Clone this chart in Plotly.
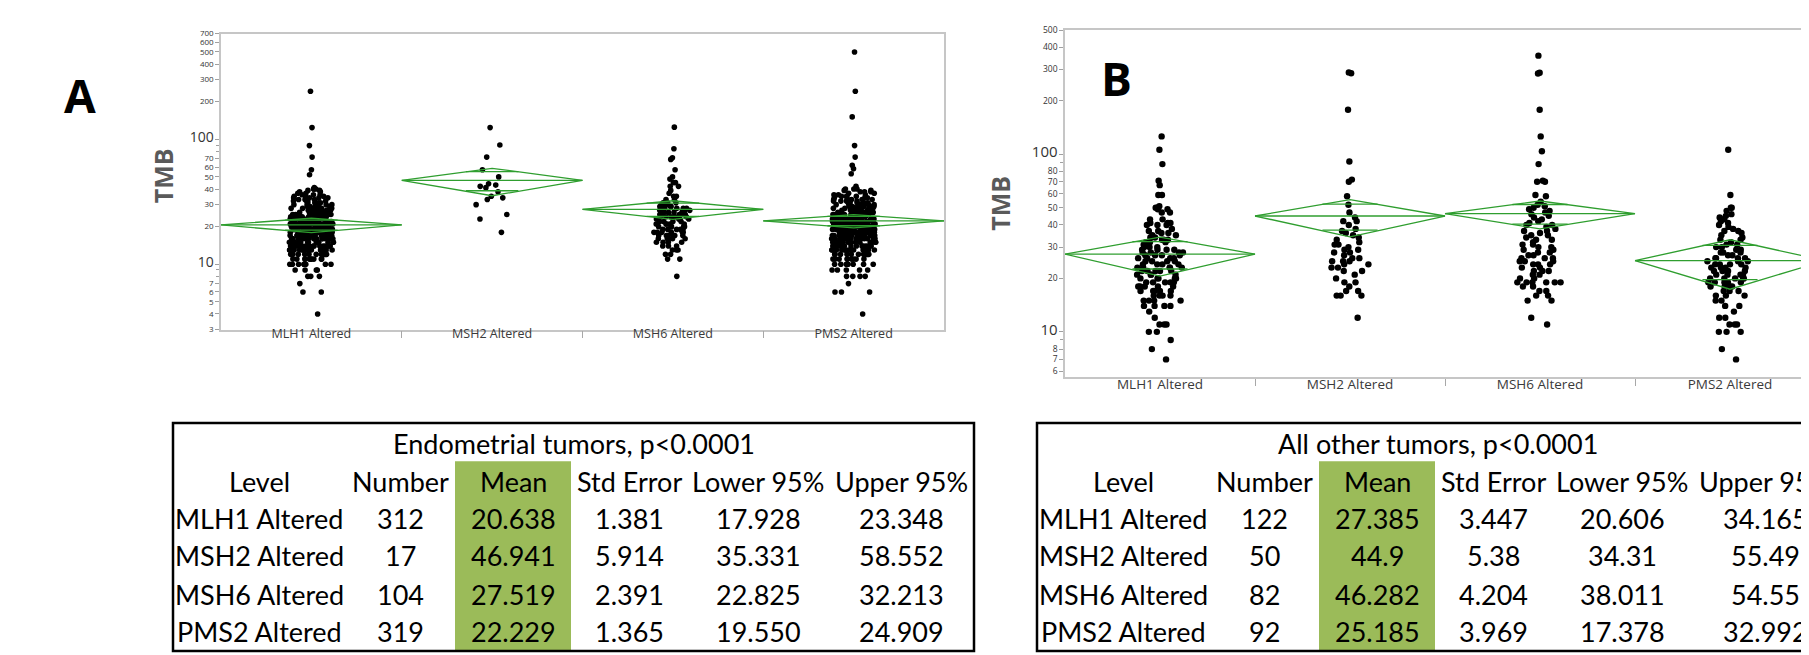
import numpy as np
import plotly.graph_objects as go

W, H = 1809, 655

categories = ["MLH1 Altered", "MSH2 Altered", "MSH6 Altered", "PMS2 Altered"]

# ---------------- Panel A : Endometrial tumors (TMB value -> number of samples) -------------
a_mlh1_tmb = [4, 6, 7, 8, 9, 10, 11, 12, 13, 14, 15, 16, 17, 18, 19, 20, 21, 22, 23, 24, 25, 26,
              27, 28, 29, 30, 31, 32, 33, 34, 35, 36, 37, 38, 39, 40, 41, 52, 57, 72, 89, 124, 242]
a_mlh1_cnt = [1, 2, 1, 3, 4, 8, 10, 12, 14, 16, 18, 18, 18, 20, 18, 18, 16, 14, 12, 11, 10, 8,
              7, 6, 5, 5, 4, 4, 3, 4, 3, 3, 2, 2, 2, 3, 1, 1, 1, 1, 1, 1, 1]
a_msh2_tmb = [18, 23, 25, 30, 33, 34, 35, 38, 41, 42, 43, 44, 50, 57, 72, 90, 124]
a_msh6_tmb = [8, 11, 12, 13, 14, 15, 16, 17, 18, 19, 20, 21, 22, 23, 24, 25, 26, 27, 28, 29, 30,
              31, 33, 35, 37, 39, 42, 45, 48, 50, 57, 69, 71, 84, 125]
a_msh6_cnt = [1, 2, 2, 3, 3, 4, 5, 6, 6, 5, 5, 5, 4, 5, 5, 5, 4, 4, 4, 3, 3,
              3, 2, 2, 1, 1, 2, 2, 1, 1, 1, 1, 1, 1, 1]
a_pms2_tmb = [4, 6, 7, 8, 9, 10, 11, 12, 13, 14, 15, 16, 17, 18, 19, 20, 21, 22, 23, 24, 25, 26,
              27, 28, 29, 30, 31, 32, 33, 34, 35, 36, 37, 38, 39, 40, 42, 53, 58, 62, 72, 89, 151,
              242, 499]
a_pms2_cnt = [1, 3, 1, 4, 5, 7, 9, 11, 13, 14, 16, 17, 18, 18, 17, 16, 15, 15, 13, 12, 11, 10,
              9, 8, 7, 6, 5, 5, 4, 4, 3, 3, 2, 3, 2, 3, 1, 1, 1, 1, 1, 1, 1,
              1, 1]

# ---------------- Panel B : All other tumors ----------------
b_mlh1_tmb = [7, 8, 9, 10, 11, 12, 13, 14, 15, 16, 17, 18, 19, 20, 21, 22, 23, 24, 25, 26, 27, 28,
              29, 30, 31, 32, 33, 34, 35, 36, 37, 38, 40, 41, 43, 47, 49, 50, 51, 59, 67, 71, 88,
              106, 126]
b_mlh1_cnt = [1, 1, 1, 2, 3, 1, 1, 4, 4, 4, 5, 5, 5, 5, 4, 5, 5, 4, 4, 4, 4, 4,
              4, 3, 2, 3, 3, 2, 2, 2, 2, 1, 3, 3, 2, 2, 2, 2, 1, 2, 1, 1, 1,
              1, 1]
b_msh2_tmb = [12, 16, 16, 16, 17, 17, 18, 19, 19, 20, 21, 22, 22, 23, 23, 24, 24, 25, 25, 25, 26,
              26, 27, 28, 28, 29, 29, 30, 31, 31, 32, 33, 34, 35, 36, 37, 38, 40, 42, 42, 44, 47,
              52, 58, 70, 72, 91, 178, 286, 289]
b_msh6_tmb = [11, 12, 15, 15, 16, 16, 17, 17, 18, 18, 19, 19, 19, 19, 19, 19, 20, 20, 21, 21, 22,
              22, 22, 23, 23, 24, 24, 24, 25, 25, 25, 26, 26, 26, 27, 27, 28, 28, 29, 29, 30, 30,
              31, 31, 32, 33, 33, 34, 35, 35, 36, 37, 37, 38, 39, 40, 40, 41, 42, 43, 44, 45, 46,
              47, 48, 49, 50, 51, 52, 54, 58, 59, 70, 70, 71, 88, 104, 126, 178, 285, 288, 359]
b_pms2_tmb = [7, 8, 10, 10, 10, 11, 11, 11, 12, 12, 13, 14, 14, 15, 15, 16, 16, 16, 17, 17, 17, 18,
              18, 18, 18, 19, 19, 19, 19, 19, 20, 20, 20, 20, 20, 21, 21, 21, 21, 22, 22, 22, 22,
              23, 23, 23, 23, 24, 24, 24, 24, 25, 25, 25, 26, 26, 26, 26, 27, 27, 28, 28, 28, 29,
              29, 30, 30, 31, 31, 32, 33, 33, 34, 35, 36, 37, 37, 38, 39, 40, 41, 42, 43, 43, 44,
              45, 46, 48, 50, 50, 59, 106]

# ---------------- Tables (means & 95% CI drive the diamonds) ----------------
table_header = ["Level", "Number", "Mean", "Std Error", "Lower 95%", "Upper 95%"]
a_table_title = "Endometrial tumors, p<0.0001"
a_number = ["312", "17", "104", "319"]
a_mean = ["20.638", "46.941", "27.519", "22.229"]
a_stderr = ["1.381", "5.914", "2.391", "1.365"]
a_lower = ["17.928", "35.331", "22.825", "19.550"]
a_upper = ["23.348", "58.552", "32.213", "24.909"]
b_table_title = "All other tumors, p<0.0001"
b_number = ["122", "50", "82", "92"]
b_mean = ["27.385", "44.9", "46.282", "25.185"]
b_stderr = ["3.447", "5.38", "4.204", "3.969"]
b_lower = ["20.606", "34.31", "38.011", "17.378"]
b_upper = ["34.165", "55.49", "54.55", "32.992"]

a_yticks = [3, 4, 5, 6, 7, 10, 20, 30, 40, 50, 60, 70, 100, 200, 300, 400, 500, 600, 700]
a_yminor = [8, 9, 80, 90]
b_yticks = [6, 7, 8, 10, 20, 30, 40, 50, 60, 70, 80, 100, 200, 300, 400, 500]
b_yminor = [9, 90]

# ---------------- helpers ----------------
def px(x):
    return x / W

def py(y):
    return 1 - y / H

GREEN = "#2f9e2f"
FRAME = "#c6c6c6"

fig = go.Figure()

def add_points(groups, xa, ya, size):
    for i, vals in enumerate(groups):
        fig.add_trace(go.Box(
            x0=i, y=vals, xaxis=xa, yaxis=ya,
            boxpoints="all", jitter=0.5, pointpos=0,
            fillcolor="rgba(0,0,0,0)", line=dict(width=0, color="rgba(0,0,0,0)"),
            marker=dict(color="black", size=size, line=dict(width=0)),
            hoverinfo="y", showlegend=False))

def add_diamonds(means, lows, ups, xa, ya):
    xs, ys = [], []
    for i, (m, lo, up) in enumerate(zip(means, lows, ups)):
        m, lo, up = float(m), float(lo), float(up)
        xs += [i - 0.5, i, i + 0.5, i, i - 0.5, None, i - 0.5, i + 0.5, None]
        ys += [m, up, m, lo, m, None, m, m, None]
        d = (up - lo) / 2 / np.sqrt(2)
        xs += [i - 0.145, i + 0.145, None, i - 0.145, i + 0.145, None]
        ys += [m + d, m + d, None, m - d, m - d, None]
    fig.add_trace(go.Scatter(x=xs, y=ys, xaxis=xa, yaxis=ya, mode="lines",
                             line=dict(color=GREEN, width=1.3), hoverinfo="skip",
                             showlegend=False))

groups_a = [np.repeat(a_mlh1_tmb, a_mlh1_cnt), a_msh2_tmb,
            np.repeat(a_msh6_tmb, a_msh6_cnt), np.repeat(a_pms2_tmb, a_pms2_cnt)]
groups_b = [np.repeat(b_mlh1_tmb, b_mlh1_cnt), b_msh2_tmb, b_msh6_tmb, b_pms2_tmb]

add_points(groups_a, "x", "y", 5.6)
add_points(groups_b, "x2", "y2", 6.4)
add_diamonds(a_mean, a_lower, a_upper, "x", "y")
add_diamonds(b_mean, b_lower, b_upper, "x2", "y2")

def ytext(vals, big):
    return [f'<span style="font-size:{big}px">{v}</span>' if v in (10, 100) else str(v)
            for v in vals]

common_x = dict(tickmode="array", tickvals=[0, 1, 2, 3], ticktext=categories, ticks="",
                showline=True, linecolor=FRAME, linewidth=1.5, showgrid=False, zeroline=False,
                type="linear",
                minor=dict(tickmode="array", tickvals=[0.5, 1.5, 2.5], ticks="outside",
                           ticklen=7, tickcolor="#a8a8a8", tickwidth=1, showgrid=False))
common_y = dict(type="log", tickmode="array", ticks="outside", ticklen=4, tickcolor="#a0a0a0",
                showline=True, linecolor=FRAME, linewidth=1.5, showgrid=False, zeroline=False)

fig.update_layout(
    width=W, height=H, margin=dict(l=0, r=0, t=0, b=0),
    paper_bgcolor="white", plot_bgcolor="white", showlegend=False,
    xaxis=dict(common_x, domain=[px(213), px(936)], range=[-0.5, 3.5], anchor="y", mirror=True,
               ticklabelstandoff=-8,
               tickfont=dict(family="Open Sans", size=12.5, color="#3a3a3a")),
    yaxis=dict(common_y, domain=[py(321), py(20)], anchor="x", mirror=True,
               range=[np.log10(3), np.log10(700)], tickvals=a_yticks,
               ticktext=ytext(a_yticks, 14),
               tickfont=dict(family="Open Sans", size=8, color="#333333"),
               minor=dict(tickmode="array", tickvals=a_yminor, ticks="outside", ticklen=3,
                          tickcolor="#a0a0a0", showgrid=False)),
    xaxis2=dict(common_x, domain=[px(1057), 1.0], range=[-0.5, -0.5 + 752 / 190], anchor="y2",
                mirror=True, ticklabelstandoff=-6,
                tickfont=dict(family="Open Sans", size=13.5, color="#3a3a3a")),
    yaxis2=dict(common_y, domain=[py(369), py(16)], anchor="x2", mirror=False,
                range=[0.747, 2.701], tickvals=b_yticks, ticktext=ytext(b_yticks, 15),
                tickfont=dict(family="Open Sans", size=8.5, color="#333333"),
                minor=dict(tickmode="array", tickvals=b_yminor, ticks="outside", ticklen=3,
                           tickcolor="#a0a0a0", showgrid=False)),
)

annotations = []
shapes = []

def ann(text, x, y, size, family="Lato", color="black", bold=False, angle=0, xanchor="center"):
    t = f"<b>{text}</b>" if bold else text
    annotations.append(dict(text=t, x=px(x), y=py(y), xref="paper", yref="paper",
                            showarrow=False, xanchor=xanchor, yanchor="middle",
                            textangle=angle, font=dict(family=family, size=size, color=color)))

# panel letters and axis titles
ann("A", 72, 82, 46, family="Open Sans", bold=True)
ann("B", 1108, 65, 46, family="Open Sans", bold=True)
ann("TMB", 155, 165, 25, family="Open Sans", color="#5a5a5a", bold=True, angle=-90)
ann("TMB", 992, 192, 25, family="Open Sans", color="#5a5a5a", bold=True, angle=-90)

# tables
col_rel = [86, 227, 340, 456, 585, 728]
row_y = [513, 551, 590, 628]

def add_table(left, right_edge, title, number, mean, stderr, lower, upper):
    shapes.append(dict(type="rect", xref="paper", yref="paper", layer="below",
                       x0=px(left + 282), x1=px(left + 398), y0=py(648), y1=py(455),
                       fillcolor="#9bbb59", line=dict(width=0)))
    shapes.append(dict(type="rect", xref="paper", yref="paper",
                       x0=px(left), x1=px(right_edge), y0=py(648), y1=py(416),
                       fillcolor="rgba(0,0,0,0)", line=dict(color="black", width=2.5)))
    ann(title, left + 401, 437, 27)
    for c, h in zip(col_rel, table_header):
        ann(h, left + c, 475, 27)
    for r in range(4):
        cells = [categories[r], number[r], mean[r], stderr[r], lower[r], upper[r]]
        for c, v in zip(col_rel, cells):
            ann(v, left + c, row_y[r], 27)

add_table(165, 966, a_table_title, a_number, a_mean, a_stderr, a_lower, a_upper)
add_table(1029, 1840, b_table_title, b_number, b_mean, b_stderr, b_lower, b_upper)

fig.update_layout(annotations=annotations, shapes=shapes)
fig.write_html("out.html")
